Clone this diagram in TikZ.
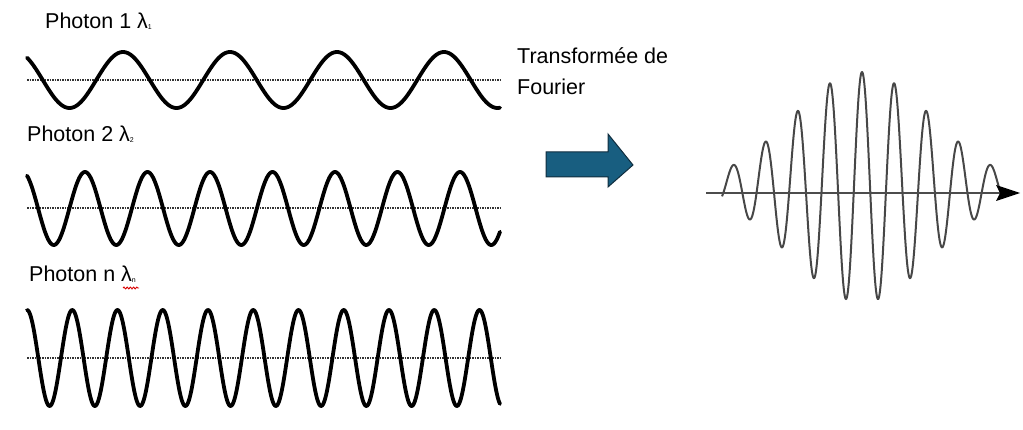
\documentclass[tikz,border=0pt]{standalone}
\usepackage{fontspec}
\setmainfont{Liberation Sans}
\usetikzlibrary{arrows.meta,decorations.pathmorphing}
\begin{document}
\begin{tikzpicture}[x=1pt,y=-1pt,
  wave/.style={line width=3.8pt,line join=round,line cap=round,black},
  baseline/.style={line width=2pt,black!80,dash pattern=on 1.5pt off 1pt},
  lbl/.style={anchor=base west,inner sep=0pt,font=\fontsize{21.5}{26}\selectfont},
  packet/.style={line width=2pt,black!72,line join=round}]
\useasboundingbox (0,0) rectangle (1023,430);
% labels
\node[lbl] (l1) at (45,29) {Photon 1 λ\raisebox{-1pt}{\fontsize{7}{7}\selectfont 1}};
\node[lbl] (l2) at (27,142) {Photon 2 λ\raisebox{-1pt}{\fontsize{7}{7}\selectfont 2}};
\node[lbl] (l3) at (29,282) {Photon n λ\raisebox{-1pt}{\fontsize{7}{7}\selectfont n}};
\draw[red!85!black,line width=0.9pt,decorate,decoration={snake,amplitude=0.9pt,segment length=3.2pt}] (123,288) -- (139,288);
\node[lbl] (tf1) at (517,64) {Transformée de};
\node[lbl] (tf2) at (517,95) {Fourier};
% baselines
\draw[baseline] (27,80) -- (500,80);
\draw[baseline] (27,208) -- (500,208);
\draw[baseline] (27,358) -- (500,358);
% waves
\draw[wave] plot[domain=27:500,samples=400,smooth] (\x,{80-28*cos(3.3645*(\x-123))});
\draw[wave] plot[domain=27:500,samples=500,smooth] (\x,{208.5-36.5*cos(5.76*(\x-22.5))});
\draw[wave] plot[domain=27:500,samples=600,smooth] (\x,{358-48*cos(7.956*(\x-27))});
% block arrow
\draw[fill={rgb,255:red,24;green,94;blue,128},draw={rgb,255:red,16;green,45;blue,62},line width=1pt,line join=miter]
  (546,152) -- (608,152) -- (608,134) -- (633,165) -- (608,187) -- (608,177) -- (546,177) -- cycle;
% wave packet
\coordinate (ax0) at (706,193);
\coordinate (ax1) at (1000,193);
\draw[packet] plot[domain=722:1003,samples=700,smooth] (\x,{187-115*exp(-((\x-862)/100)^2)*cos(11.18*(\x-862))});
\draw[line width=1.8pt,black!70] (ax0) -- (ax1);
\fill[black] (996,185) -- (1020,193) -- (996,201) -- (1000,193) -- cycle;
\end{tikzpicture}
\end{document}
